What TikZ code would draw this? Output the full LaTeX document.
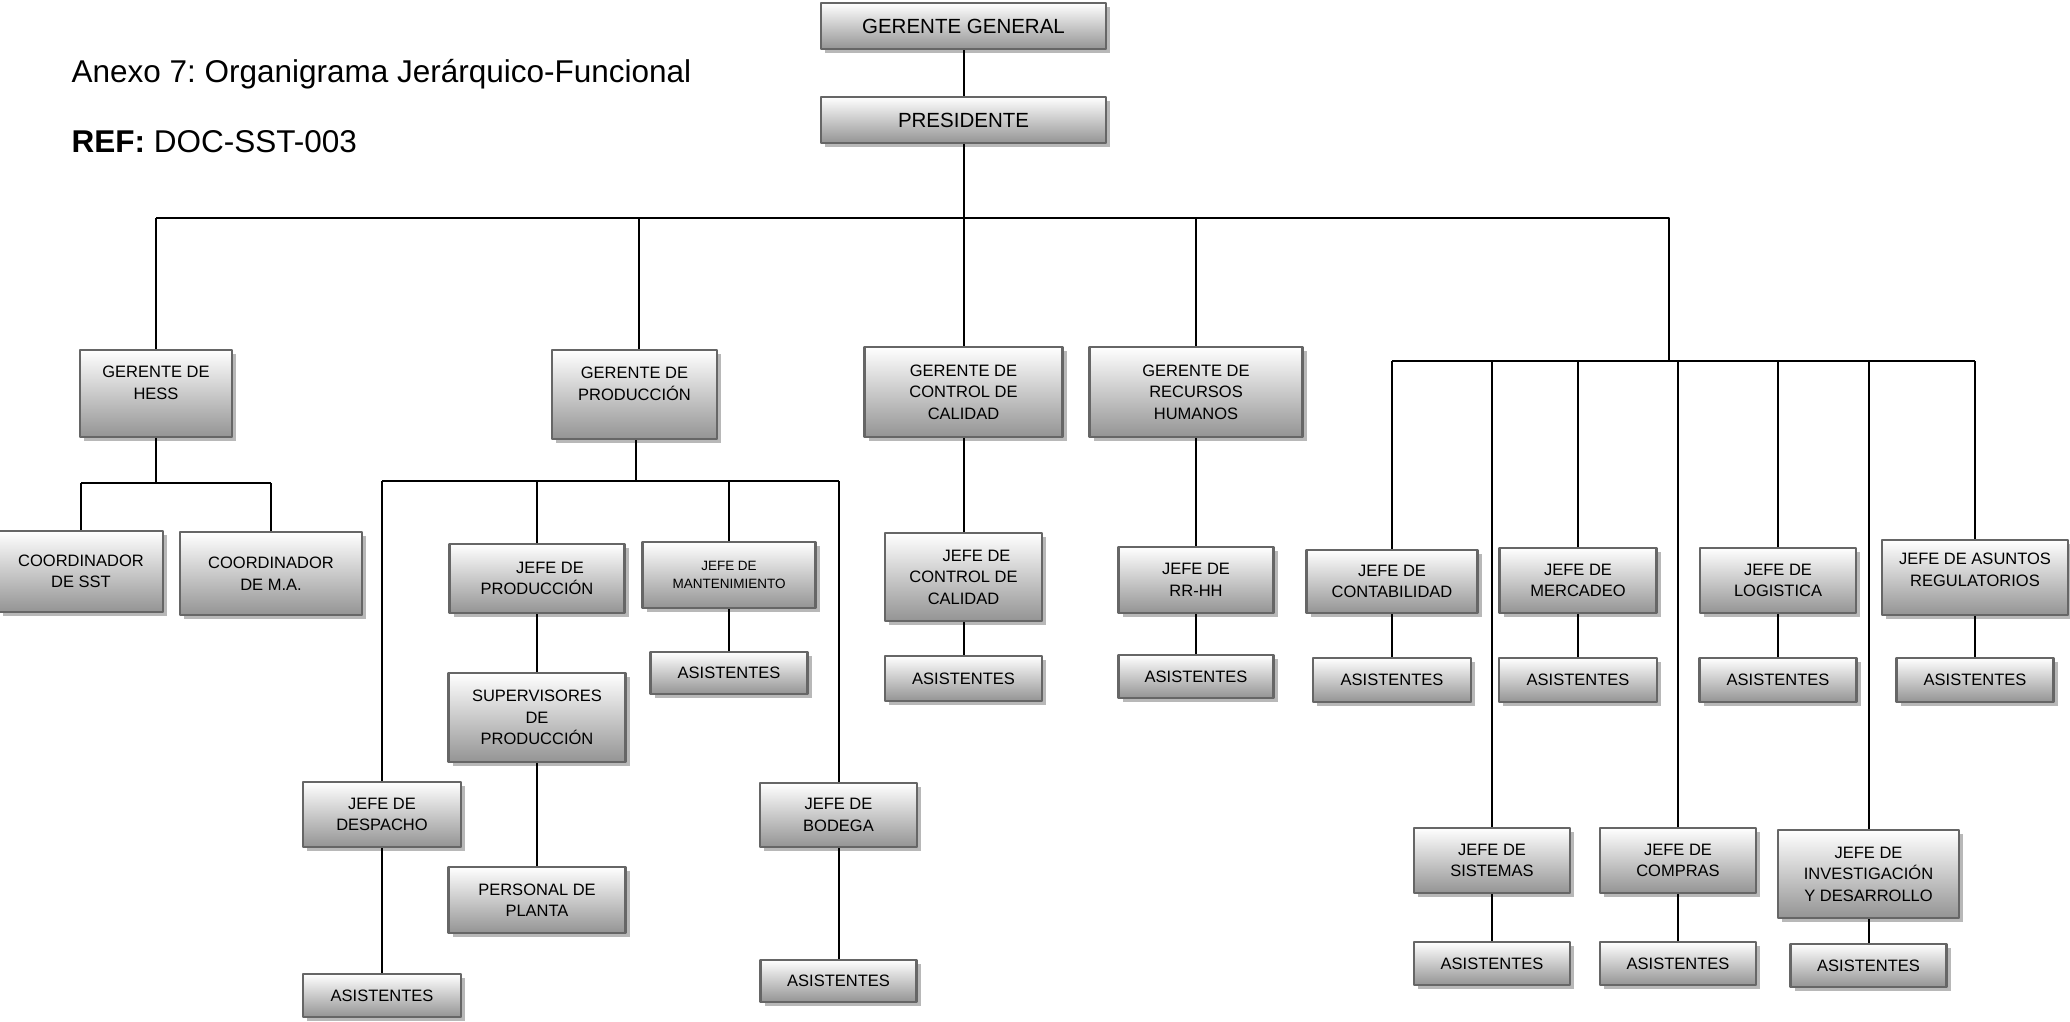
\documentclass[tikz,border=0pt]{standalone}
\usepackage{fontspec}
\setmainfont{Liberation Sans}
\usetikzlibrary{shadows}
\frenchspacing
\begin{document}
\begin{tikzpicture}[x=1pt, y=-1pt, line join=round,
	cargo/.style={draw=black!60, line width=2.4pt, top color=white, middle color=black!8, bottom color=black!42,
		drop shadow={shadow xshift=4pt, shadow yshift=-4pt, fill=black!28, opacity=1},
		align=center, inner sep=0pt, font=\fontsize{16.5}{21.5}\selectfont},
	caja/.style 2 args={cargo, minimum width=#1, minimum height=#2},
	grande/.style={font=\fontsize{20.5}{24}\selectfont},
	chica/.style={font=\fontsize{13.5}{18}\selectfont},
	linea/.style={line width=2pt}]
	\useasboundingbox (0,0) rectangle (2070,1021);
	% titulo
	\node[anchor=base west, font=\fontsize{31.5}{36}\selectfont] (titulo) at (68,82) {Anexo 7: Organigrama Jerárquico-Funcional};
	\node[anchor=base west, font=\fontsize{31.5}{36}\selectfont] (ref) at (68,152) {\textbf{REF:} DOC-SST-003};
	% direccion
	\node[caja={285}{46}, grande] (gg) at (963.5,26) {GERENTE GENERAL};
	\node[caja={285}{46}, grande] (pres) at (963.5,120) {PRESIDENTE};
	% gerencias
	\node[caja={152}{87}] (hess) at (156,393.5) {GERENTE DE\\HESS\\\mbox{}};
	\node[caja={165}{89}] (prod) at (634.5,394.5) {GERENTE DE\\PRODUCCIÓN\\\mbox{}};
	\node[caja={198}{90}] (gcal) at (963.5,392) {GERENTE DE\\CONTROL DE\\CALIDAD};
	\node[caja={213}{90}] (grrhh) at (1196,392) {GERENTE DE\\RECURSOS\\HUMANOS};
	% HESS
	\node[caja={164}{81}] (coordsst) at (81,571.5) {COORDINADOR\\DE SST};
	\node[caja={182}{83}] (coordma) at (271,573.5) {COORDINADOR\\DE M.A.};
	% produccion
	\node[caja={175}{69}] (jprod) at (537,578.5) {\hspace*{26pt}JEFE DE\\PRODUCCIÓN};
	\node[caja={177}{89}] (superv) at (537,717.5) {SUPERVISORES\\DE\\PRODUCCIÓN};
	\node[caja={177}{66}] (personal) at (537,900) {PERSONAL DE\\PLANTA};
	\node[caja={173}{66}, chica] (jmant) at (729,575) {JEFE DE\\MANTENIMIENTO};
	\node[caja={157}{42}] (asmant) at (729,673) {ASISTENTES};
	\node[caja={158}{65}] (jdesp) at (382,814.5) {JEFE DE\\DESPACHO};
	\node[caja={158}{43}] (asdesp) at (382,995.5) {ASISTENTES};
	\node[caja={157}{64}] (jbod) at (838.5,815) {JEFE DE\\BODEGA};
	\node[caja={156}{42}] (asbod) at (838.5,981) {ASISTENTES};
	% calidad y rrhh
	\node[caja={157}{88}] (jcal) at (963.5,577) {\hspace*{26pt}JEFE DE\\CONTROL DE\\CALIDAD};
	\node[caja={157}{45}] (ascal) at (963.5,678.5) {ASISTENTES};
	\node[caja={155}{66}] (jrrhh) at (1196,580) {JEFE DE\\RR-HH};
	\node[caja={155}{43}] (asrrhh) at (1196,676.5) {ASISTENTES};
	% areas de apoyo
	\node[caja={171}{63}] (jcont) at (1392,581.5) {JEFE DE\\CONTABILIDAD};
	\node[caja={158}{44}] (ascont) at (1392,680) {ASISTENTES};
	\node[caja={157}{65}] (jmerc) at (1578,580.5) {JEFE DE\\MERCADEO};
	\node[caja={158}{44}] (asmerc) at (1578,680) {ASISTENTES};
	\node[caja={156}{65}] (jlog) at (1778,580.5) {JEFE DE\\LOGISTICA};
	\node[caja={157}{44}] (aslog) at (1778,680) {ASISTENTES};
	\node[caja={186}{75}] (jasun) at (1975,577.5) {JEFE DE ASUNTOS\\REGULATORIOS\\[-6pt]\mbox{}};
	\node[caja={157}{44}] (asasun) at (1975,680) {ASISTENTES};
	\node[caja={156}{65}] (jsist) at (1492,860.5) {JEFE DE\\SISTEMAS};
	\node[caja={156}{43}] (assist) at (1492,963.5) {ASISTENTES};
	\node[caja={156}{65}] (jcomp) at (1678,860.5) {JEFE DE\\COMPRAS};
	\node[caja={156}{43}] (ascomp) at (1678,963.5) {ASISTENTES};
	\node[caja={181}{88}] (jid) at (1868.5,874) {JEFE DE\\INVESTIGACIÓN\\Y DESARROLLO};
	\node[caja={156}{43}] (asid) at (1868.5,965.5) {ASISTENTES};
	% barras
	\coordinate (bus) at (156,218);
	\coordinate (busfin) at (1669,218);
	\coordinate (subh) at (156,483);
	\coordinate (subp) at (636,481);
	\coordinate (bus2) at (1669,361);
	\draw[linea] (gg) -- (pres);
	\draw[linea] (pres) -- (pres |- bus);
	\draw[linea] (bus) -- (busfin) -- (bus2);
	\foreach \n in {hess,gcal,grrhh}
		\draw[linea] (\n.north |- bus) -- (\n.north);
	\draw[linea] ([xshift=4pt]prod.north |- bus) -- ([xshift=4pt]prod.north);
	\draw[linea] (hess) -- (subh);
	\draw[linea] (coordsst.north |- subh) -- (coordma.north |- subh);
	\foreach \n in {coordsst,coordma}
		\draw[linea] (\n.north |- subh) -- (\n.north);
	\draw[linea] (prod.south -| subp) -- (subp);
	\draw[linea] (jdesp.north |- subp) -- (jbod.north |- subp);
	\foreach \n in {jdesp,jprod,jmant,jbod}
		\draw[linea] (\n.north |- subp) -- (\n.north);
	\draw[linea] (jcont.north |- bus2) -- (jasun.north |- bus2);
	\foreach \n in {jcont,jsist,jmerc,jcomp,jlog,jid,jasun}
		\draw[linea] (\n.north |- bus2) -- (\n.north);
	\foreach \a/\b in {jprod/superv,superv/personal,jmant/asmant,jdesp/asdesp,jbod/asbod,
		gcal/jcal,jcal/ascal,grrhh/jrrhh,jrrhh/asrrhh,jcont/ascont,jmerc/asmerc,jlog/aslog,
		jasun/asasun,jsist/assist,jcomp/ascomp,jid/asid}
		\draw[linea] (\a) -- (\b);
\end{tikzpicture}
\end{document}
